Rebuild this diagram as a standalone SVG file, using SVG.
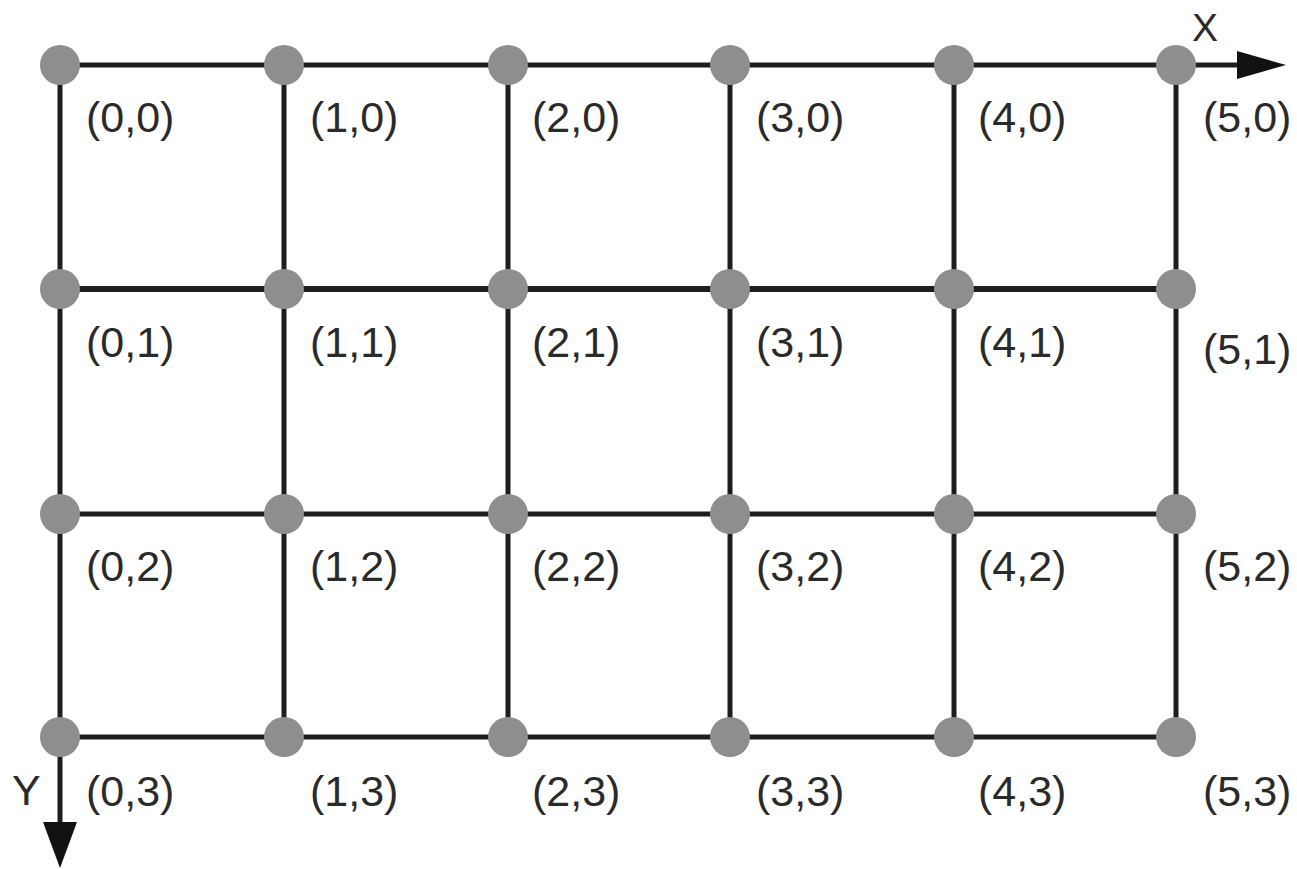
<svg xmlns="http://www.w3.org/2000/svg" width="1297" height="869" viewBox="0 0 1297 869">
<style>
.ln{stroke:#1e1e1e;stroke-width:5;fill:none}
.thick{stroke-width:6}
.nd{fill:#8e8e8e}
.lb{font-family:"Liberation Sans",Arial,sans-serif;font-size:43px;fill:#2a2a2a}
.ax{font-family:"Liberation Sans",Arial,sans-serif;fill:#2a2a2a}
</style>
<rect width="1297" height="869" fill="#ffffff"/>
<g id="connectors">
<line class="ln" x1="60" y1="65" x2="1245" y2="65"/>
<line class="ln thick" x1="60" y1="289" x2="1176" y2="289"/>
<line class="ln" x1="60" y1="514" x2="1176" y2="514"/>
<line class="ln" x1="60" y1="737" x2="1176" y2="737"/>
<line class="ln" x1="60" y1="65" x2="60" y2="830"/>
<line class="ln" x1="284" y1="65" x2="284" y2="737"/>
<line class="ln" x1="508" y1="65" x2="508" y2="737"/>
<line class="ln" x1="730" y1="65" x2="730" y2="737"/>
<line class="ln" x1="954" y1="65" x2="954" y2="737"/>
<line class="ln" x1="1176" y1="65" x2="1176" y2="737"/>
<polygon points="1237,51 1286,65 1237,79" fill="#111"/>
<polygon points="43,822 77,822 60,868" fill="#111"/>
<text class="ax" x="1192" y="41" font-size="39">X</text>
<text class="ax" x="12" y="805" font-size="43">Y</text>
</g>
<g id="n00"><circle class="nd" cx="60" cy="65" r="20"/><text class="lb" x="86" y="132">(0,0)</text></g>
<g id="n10"><circle class="nd" cx="284" cy="65" r="20"/><text class="lb" x="310" y="132">(1,0)</text></g>
<g id="n20"><circle class="nd" cx="508" cy="65" r="20"/><text class="lb" x="532" y="132">(2,0)</text></g>
<g id="n30"><circle class="nd" cx="730" cy="65" r="20"/><text class="lb" x="756" y="132">(3,0)</text></g>
<g id="n40"><circle class="nd" cx="954" cy="65" r="20"/><text class="lb" x="978" y="132">(4,0)</text></g>
<g id="n50"><circle class="nd" cx="1176" cy="65" r="20"/><text class="lb" x="1203" y="132">(5,0)</text></g>
<g id="n01"><circle class="nd" cx="60" cy="289" r="20"/><text class="lb" x="86" y="357">(0,1)</text></g>
<g id="n11"><circle class="nd" cx="284" cy="289" r="20"/><text class="lb" x="310" y="357">(1,1)</text></g>
<g id="n21"><circle class="nd" cx="508" cy="289" r="20"/><text class="lb" x="532" y="357">(2,1)</text></g>
<g id="n31"><circle class="nd" cx="730" cy="289" r="20"/><text class="lb" x="756" y="357">(3,1)</text></g>
<g id="n41"><circle class="nd" cx="954" cy="289" r="20"/><text class="lb" x="978" y="357">(4,1)</text></g>
<g id="n51"><circle class="nd" cx="1176" cy="289" r="20"/><text class="lb" x="1203" y="364">(5,1)</text></g>
<g id="n02"><circle class="nd" cx="60" cy="514" r="20"/><text class="lb" x="86" y="581">(0,2)</text></g>
<g id="n12"><circle class="nd" cx="284" cy="514" r="20"/><text class="lb" x="310" y="581">(1,2)</text></g>
<g id="n22"><circle class="nd" cx="508" cy="514" r="20"/><text class="lb" x="532" y="581">(2,2)</text></g>
<g id="n32"><circle class="nd" cx="730" cy="514" r="20"/><text class="lb" x="756" y="581">(3,2)</text></g>
<g id="n42"><circle class="nd" cx="954" cy="514" r="20"/><text class="lb" x="978" y="581">(4,2)</text></g>
<g id="n52"><circle class="nd" cx="1176" cy="514" r="20"/><text class="lb" x="1203" y="581">(5,2)</text></g>
<g id="n03"><circle class="nd" cx="60" cy="737" r="20"/><text class="lb" x="86" y="806">(0,3)</text></g>
<g id="n13"><circle class="nd" cx="284" cy="737" r="20"/><text class="lb" x="310" y="806">(1,3)</text></g>
<g id="n23"><circle class="nd" cx="508" cy="737" r="20"/><text class="lb" x="532" y="806">(2,3)</text></g>
<g id="n33"><circle class="nd" cx="730" cy="737" r="20"/><text class="lb" x="756" y="806">(3,3)</text></g>
<g id="n43"><circle class="nd" cx="954" cy="737" r="20"/><text class="lb" x="978" y="806">(4,3)</text></g>
<g id="n53"><circle class="nd" cx="1176" cy="737" r="20"/><text class="lb" x="1203" y="806">(5,3)</text></g>
</svg>
